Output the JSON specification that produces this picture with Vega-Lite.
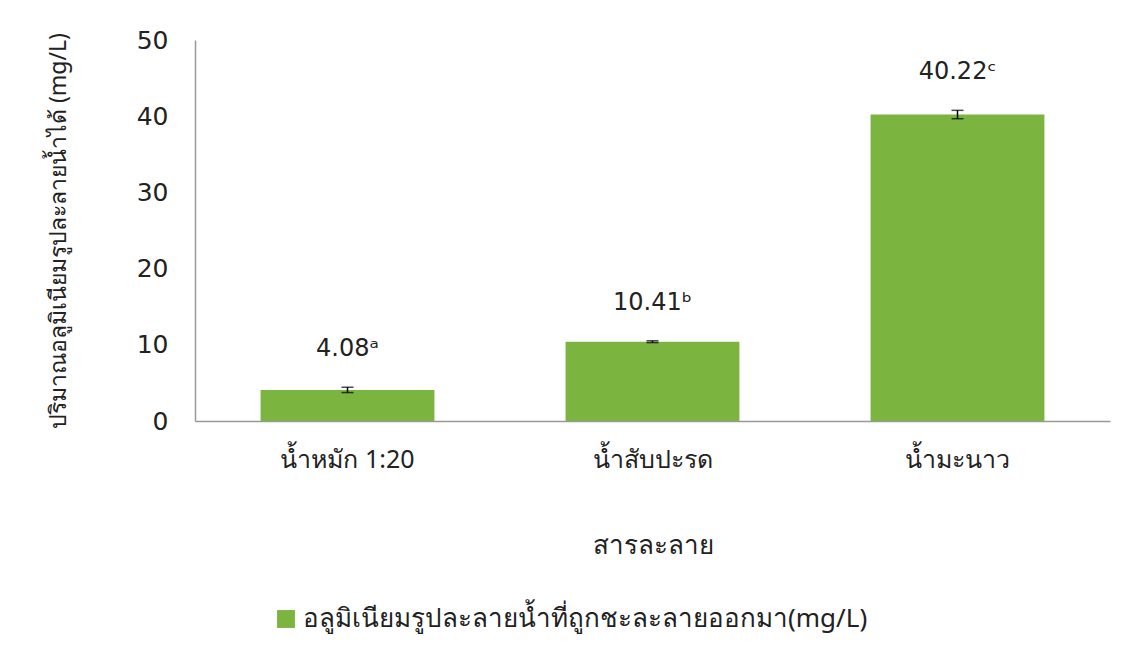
{
  "$schema": "https://vega.github.io/schema/vega-lite/v6.json",
  "autosize": {"type": "none"},
  "width": 915,
  "height": 381,
  "padding": {"left": 195, "top": 40, "right": 34, "bottom": 245},
  "background": "white",
  "config": {
    "view": {"stroke": null},
    "font": "DejaVu Sans"
  },
  "data": {
    "values": [
      {"solution": "น้ำหมัก 1:20", "value": 4.08, "err": 0.35, "label": "4.08ᵃ", "series": "อลูมิเนียมรูปละลายน้ำที่ถูกชะละลายออกมา(mg/L)"},
      {"solution": "น้ำสับปะรด", "value": 10.41, "err": 0.12, "label": "10.41ᵇ", "series": "อลูมิเนียมรูปละลายน้ำที่ถูกชะละลายออกมา(mg/L)"},
      {"solution": "น้ำมะนาว", "value": 40.22, "err": 0.55, "label": "40.22ᶜ", "series": "อลูมิเนียมรูปละลายน้ำที่ถูกชะละลายออกมา(mg/L)"}
    ]
  },
  "encoding": {
    "x": {
      "field": "solution",
      "type": "nominal",
      "sort": null,
      "scale": {"paddingInner": 0.43, "paddingOuter": 0.215},
      "axis": {
        "title": "สารละลาย",
        "titleFont": "Noto Sans",
        "titleFontSize": 26,
        "titleFontWeight": "normal",
        "titleColor": "#222",
        "titlePadding": 60,
        "labelFont": "Noto Sans",
        "labelFontSize": 25,
        "labelColor": "#222",
        "labelPadding": 26,
        "labelAngle": 0,
        "ticks": false,
        "domainColor": "#999",
        "domainWidth": 1.5
      }
    },
    "y": {
      "field": "value",
      "type": "quantitative",
      "title": "ปริมาณอลูมิเนียมรูปละลายน้ำได้ (mg/L)",
      "scale": {"domain": [0, 50]},
      "axis": {
        "titleFont": "Noto Sans",
        "titleFontSize": 23,
        "titleFontWeight": "normal",
        "titleColor": "#222",
        "titlePadding": 66,
        "values": [0, 10, 20, 30, 40, 50],
        "grid": false,
        "ticks": false,
        "labelFont": "DejaVu Sans",
        "labelFontSize": 25,
        "labelColor": "#222",
        "labelPadding": 27,
        "domainColor": "#999",
        "domainWidth": 1.5
      }
    }
  },
  "layer": [
    {
      "mark": {"type": "bar"},
      "encoding": {
        "color": {
          "field": "series",
          "type": "nominal",
          "scale": {"range": ["#7cb440"]},
          "legend": {
            "title": null,
            "orient": "none",
            "legendX": 78,
            "legendY": 566,
            "symbolType": "square",
            "symbolSize": 320,
            "labelFont": "Noto Sans",
            "labelFontSize": 26,
            "labelColor": "#222",
            "labelLimit": 900
          }
        }
      }
    },
    {
      "mark": {"type": "errorbar", "ticks": {"size": 12, "color": "black", "thickness": 1.5}, "rule": {"color": "black", "strokeWidth": 1.5}},
      "encoding": {
        "yError": {"field": "err"}
      }
    },
    {
      "transform": [{"calculate": "datum.value + datum.err", "as": "top"}],
      "mark": {"type": "text", "dy": -26, "font": "DejaVu Sans", "fontSize": 24, "color": "#222", "baseline": "bottom"},
      "encoding": {
        "y": {"field": "top", "type": "quantitative", "title": "ปริมาณอลูมิเนียมรูปละลายน้ำได้ (mg/L)"},
        "text": {"field": "label"}
      }
    }
  ]
}
